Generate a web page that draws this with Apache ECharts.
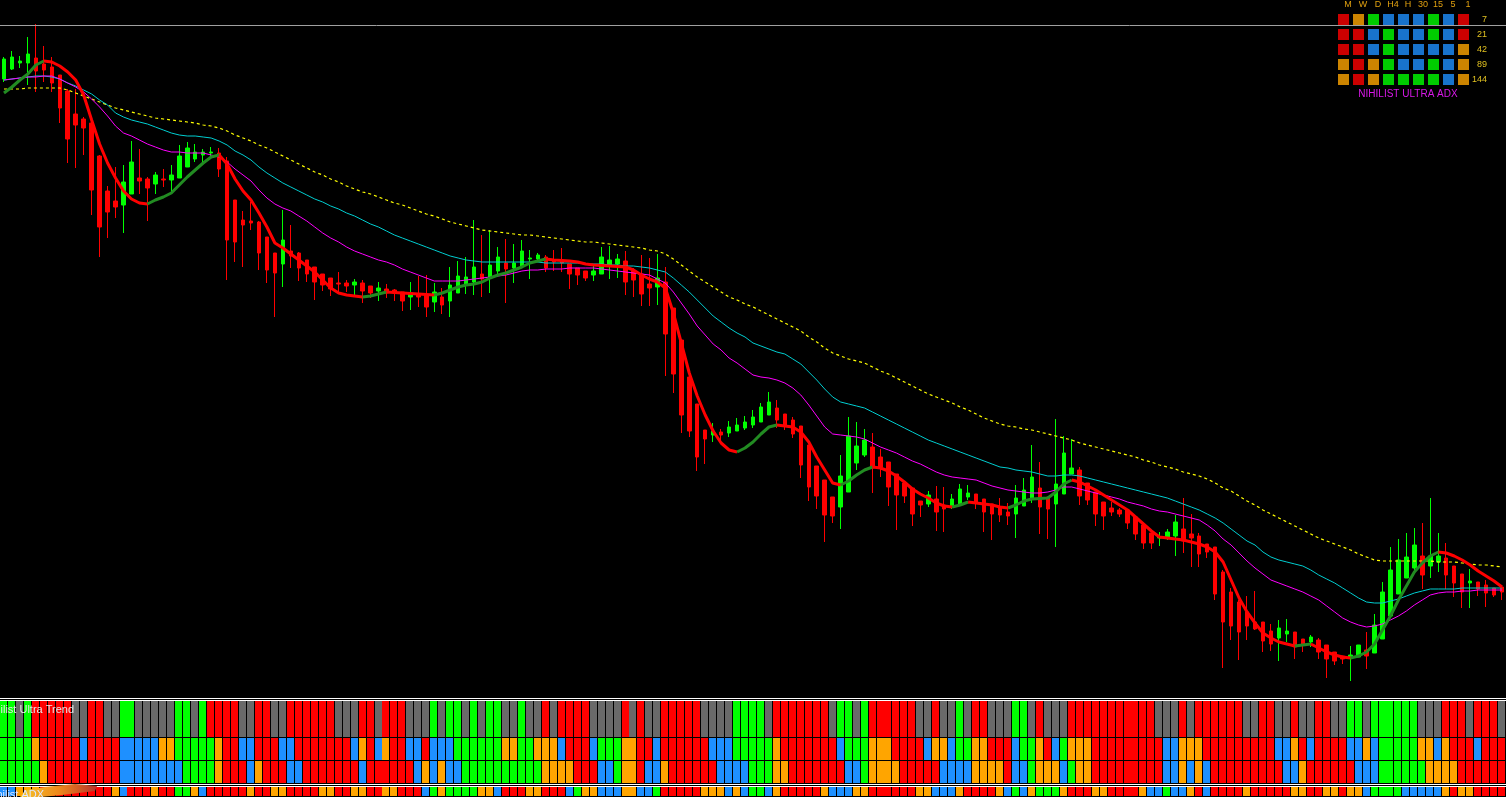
<!DOCTYPE html>
<html><head><meta charset="utf-8">
<script src="https://cdn.jsdelivr.net/npm/echarts@6/dist/echarts.min.js"></script>
<style>html,body{margin:0;padding:0;background:#000;overflow:hidden}#c{width:1506px;height:797px}</style>
</head><body><div id="c"></div><script>
// ---- price data (points) ----
const opens = [621,631,637,637,642,636,633,625,609,586,
581,577,544,509,499,495,506,522,521,516,
521,520,522,533,541,545,547,547,539,500,
480,479,478,463,447,436,449,447,440,433,
426,422,417,417,415,417,414,409,411,410,
408,403,405,405,398,403,399,407,415,418,
426,423,429,437,432,434,441,441,443,439,
440,436,432,429,425,426,434,436,439,429,
426,416,413,418,392,360,323,296,270,265,
268,267,269,272,275,278,285,292,286,280,
274,255,234,220,203,193,208,237,245,253,
243,238,226,217,212,199,196,201,195,193,
196,203,206,201,196,192,188,186,194,201,
212,203,196,206,226,230,217,208,198,192,
190,190,183,175,167,162,162,164,171,166,
164,156,153,128,108,98,88,78,78,69,
62,66,68,61,58,60,55,48,44,43,
43,50,47,61,84,106,122,132,144,134,
138,142,134,126,117,118,115,112,113];
const closes = [641,643,639,646,629,630,617,592,561,575,
572,510,473,488,493,518,538,519,512,525,
520,525,544,552,548,548,548,531,460,458,
475,477,447,430,427,460,444,432,426,418,
415,411,416,414,418,409,407,412,407,407,
399,407,403,393,408,395,415,424,423,433,
421,435,443,431,437,449,442,445,432,438,
437,426,425,422,429,443,440,441,418,420,
406,412,422,366,326,285,269,243,261,269,
265,273,275,278,283,293,298,280,274,266,
235,213,204,185,184,224,264,254,260,232,
233,213,205,204,186,195,205,188,191,201,
211,207,197,188,186,185,184,202,210,223,
193,191,216,247,232,204,200,186,184,188,
186,177,166,157,157,163,168,178,159,162,
146,148,106,78,74,68,74,71,59,56,
72,69,53,56,63,48,41,39,41,45,
55,44,75,108,130,140,143,155,125,144,
144,125,117,108,119,111,107,105,108];
const lows = [618,630,632,615,608,618,608,577,537,532,
545,485,443,462,482,467,506,506,479,506,
513,506,522,533,538,538,543,523,420,438,
433,470,430,417,383,413,432,419,418,400,
409,404,407,408,405,397,402,399,402,399,
389,390,393,383,388,386,383,407,406,405,
403,407,423,397,417,433,421,440,428,429,
428,411,415,419,419,426,421,422,405,403,
394,394,395,324,307,267,263,229,236,258,
260,263,269,270,272,278,285,272,270,262,
222,199,191,158,177,171,208,230,243,207,
223,194,170,197,174,183,193,169,168,191,
196,200,191,168,160,178,175,162,194,197,
166,161,153,206,226,195,195,174,170,184,
183,171,160,151,151,154,160,144,147,133,
133,142,100,32,60,40,60,70,48,49,
39,58,41,48,53,41,22,35,36,19,
43,31,47,61,84,106,122,130,111,122,
128,111,103,92,92,104,93,103,100];
const highs = [643,649,644,663,676,654,643,625,611,611,
583,582,545,514,533,535,559,551,523,528,
531,535,555,558,556,551,553,552,543,500,
489,498,479,463,447,490,475,448,440,433,
426,422,428,420,421,420,414,418,416,411,
408,418,424,425,417,412,433,439,443,480,
465,470,453,461,456,460,450,447,445,450,
452,436,432,429,435,453,454,446,449,432,
445,442,446,433,392,360,323,296,270,277,
271,279,282,284,290,297,308,300,286,283,
274,255,234,220,203,245,283,278,271,267,
251,238,226,217,212,199,209,214,213,206,
216,215,206,201,196,202,197,215,222,255,
238,203,281,264,261,233,217,208,198,198,
192,190,183,175,167,168,171,185,202,186,
167,156,153,130,112,100,104,109,78,76,
80,81,68,61,65,62,55,48,44,54,
55,68,86,118,153,161,167,172,177,202,
167,157,134,126,131,118,120,112,113];

// ---- moving averages ----
const maSlow = [611,611,611,612,612,612,612,612,610,607,
604,601,598,595,592,590,588,586,584,582,
581,580,579,578,577,575,574,572,569,565,
562,559,555,552,548,544,540,536,532,528,
525,521,518,514,511,508,506,503,500,497,
495,492,489,486,484,481,478,476,474,472,
470,469,468,467,466,465,465,464,463,462,
461,460,459,458,458,457,456,455,454,453,
452,450,449,446,441,435,429,423,418,413,
408,403,400,396,393,389,385,381,377,373,
369,363,358,352,347,344,341,339,337,333,
329,326,322,318,314,310,306,303,300,297,
293,290,286,282,279,276,274,273,271,270,
268,266,264,262,260,257,255,253,251,249,
247,245,243,240,238,235,233,231,228,226,
224,221,217,212,209,204,199,195,190,186,
182,178,174,170,166,162,159,156,153,150,
146,143,140,139,139,139,139,139,139,139,
138,138,138,137,136,135,135,134,133];
const maMid = [620,621,622,623,624,624,623,621,617,614,
610,606,600,595,587,583,580,578,576,573,
570,567,565,564,564,563,562,559,555,549,
545,540,533,527,522,517,513,509,505,501,
498,494,491,487,484,480,476,473,469,465,
462,459,456,453,450,447,444,442,440,439,
438,438,438,438,438,438,438,438,437,437,
437,437,437,436,436,436,435,435,434,434,
433,432,430,428,422,415,408,400,392,384,
378,372,367,363,357,354,351,348,346,341,
336,328,320,311,303,298,296,294,292,288,
284,280,276,272,268,264,260,257,254,251,
248,245,242,239,236,233,232,230,229,228,
226,224,224,225,225,224,222,220,218,216,
214,212,210,208,206,204,202,199,196,193,
190,186,182,177,171,165,159,155,148,143,
140,138,136,134,130,125,121,117,112,107,
102,98,97,97,99,101,104,107,109,111,
111,111,111,112,112,112,112,112,112];
const maShort = [620,621,622,623,623,624,624,621,617,613,
608,601,593,584,574,567,564,560,556,553,
550,548,548,547,547,547,545,543,538,531,
525,519,510,502,496,492,489,484,479,473,
467,462,458,453,449,446,443,440,438,435,
431,428,425,422,419,419,419,419,420,421,
422,423,424,425,427,429,430,430,431,431,
431,432,432,432,432,431,430,429,428,427,
426,425,421,417,408,397,386,374,365,356,
350,342,337,331,325,323,322,320,317,312,
305,295,284,273,266,265,264,263,261,257,
253,250,247,243,239,236,232,228,225,223,
222,221,220,217,214,212,210,209,208,207,
207,208,210,213,213,211,209,207,205,203,
201,198,196,194,191,189,188,186,184,182,
180,175,169,161,155,147,139,132,126,120,
117,114,111,108,104,100,94,88,82,78,
75,73,74,76,80,84,89,95,100,105,
107,108,108,109,109,110,110,110,110];
const maFast = [607,613,620,626,635,639,638,634,628,620,
605,580,556,537,522,509,501,497,496,500,
503,507,515,523,530,537,543,545,536,521,
509,500,487,473,457,452,446,440,434,428,
420,412,407,405,404,403,404,406,408,407.5,
407,406.5,406,405.5,405,407,410,413,415,416,
418,422,425,427,430,433,437,439,441,440,
439.5,439,438,436,435,434.5,434,433.5,433,430,
425,421,418,412,387,357,327,304,285,269,
257,250,248,252,258,266,273,275,274,273,
268,258,243,230,217,215,219,225,230,233,
232,229,224,218,211,206,202,197,194,193,
195,198,197,196,195,193,192,195,199,201,
201.5,202,208,216,220,218,214,210,205,200,
195,190,183,176,169,163,162,161,160,158,
156,153,148,138,120,102,88,77,67,62,
58,56,54,55,56,52,48,45,43,42,
44,48,56,70,84,100,114,128,137,144,
148,147,144,140,135,129,124,119,113];
const upperLevel = 675;

// ---- Nihilist Ultra Trend rows (R red, O orange, G green, B blue, X gray) ----
const trendRow1 = "GGXGRRRRRXXRRXXGGXXXXXGGXGRRRRXXRRXXRR" + "RRRRXXXRRXRRRXXXGXGGXGXGGXXGXXRXRRRRXX" + "XXRXRXXRRRRRXXXXGGGGXRRRRRRRXGGXGRRRR" + "RRXXRXXGXRRXXXGGXRXXXRRRRRRRRRRRXXXRXR" + "RRRRRXXRRXXRXXRRXXGGXGGGGGGXXXRRRXRRRX";
const trendRow2 = "GGGGORRRRRBRRRRBBBBBOOGGGGGORRBBRRRBBR" + "RRRRRRBORBORRBBRBBBGGGGGGOOGGOOOBRRRBG" + "GGOORRBRRRRRRBBBGGGGGORRRRRRRBGGGOOOR" + "RRRBOOBGGOORRRBGGORBGOOORRRRRRRRRBBOOO" + "RRRRRRRRRBBORBRRRRBBOBGGGGGOOBORRRBRRR";
const trendRow3 = "GGGGGORRRRRRRRRBBBBBBBBGGGGORRRBORRRBB" + "RRRRRRRBRRRRRRBOBOBBGGGGGGGGGGOOOORRRB" + "BGOORBBORRRRRRBBBBGGGOORRRRRRRBBGOOOO" + "RRRRRBBBBOOOORBBGOOOBGOORRRRRRRRRBBOBO" + "BRRRRRRRRRBBORRRRRRBBBGGGGGGOOOORRRRRR";
const trendRow4 = "BBOOORRRRRRRRROBRRRORRGGOBRRRRRORROORR" + "RROORROORROORRRBGOGGGGOOBRRROORRRBGOOB" + "BBOOBBGRRRRROOOBOBGGBORRRRROBBBOORRRR" + "RROOBBBORRRROBGBOGGGORRROORRRROBBGBBOR" + "BRRRRORRRRROORROOROOBGGGGBBBBBOROORRRR";

// ---- Nihilist Ultra ADX panel ----
const adxTimeframes = ['M','W','D','H4','H','30','15','5','1'];
const adxPeriods = ['7','21','42','89','144'];
const adxRows = ['ROGBBBGBR','RRBGBBGBR','RRBGBBBBO','OROGBBGBO','OROGGGGBO'];

// ---------------------------------------------------------------
const N = opens.length;
const barIndex = opens.map((_, i) => String(i));
const palette = {R:'#ff0000', O:'#ffa500', G:'#00ff00', B:'#1e90ff', X:'#696969'};
const codeList = ['R','O','G','B','X'];

const candleData = opens.map((o, i) => [o, closes[i], lows[i], highs[i]]);

function fastRuns(vals){
  const runs = []; let cur = null;
  for (let i = 0; i < vals.length - 1; i++) {
    let up = vals[i+1] > vals[i] ? true : (vals[i+1] < vals[i] ? false : (cur ? cur.up : true));
    if (!cur || cur.up !== up) { cur = {up, start:i, end:i+1}; runs.push(cur); } else cur.end = i+1;
  }
  return runs;
}

const series = [];
series.push({
  type:'candlestick', xAxisIndex:0, yAxisIndex:0, data:candleData, barWidth:4,
  itemStyle:{color:'#00ff00', color0:'#ff0000', borderColor:'#00ff00', borderColor0:'#ff0000', borderWidth:1},
  markLine:{silent:true, symbol:['none','none'], label:{show:false},
    lineStyle:{color:'#a0a0a0', width:1, type:'solid'}, data:[{yAxis:upperLevel}]}
});
series.push({type:'line', xAxisIndex:0, yAxisIndex:0, data:maSlow, showSymbol:false, symbol:'none',
  lineStyle:{color:'#ffff00', width:1.2, type:[3,3]}});
series.push({type:'line', xAxisIndex:0, yAxisIndex:0, data:maMid, showSymbol:false, symbol:'none',
  lineStyle:{color:'#00ced1', width:1}});
series.push({type:'line', xAxisIndex:0, yAxisIndex:0, data:maShort, showSymbol:false, symbol:'none',
  lineStyle:{color:'#ff00ff', width:1}});
fastRuns(maFast).forEach(r => {
  series.push({type:'line', xAxisIndex:0, yAxisIndex:0, showSymbol:false, symbol:'none', connectNulls:false,
    data: maFast.map((v, i) => (i >= r.start && i <= r.end) ? v : null),
    lineStyle:{color: r.up ? '#228b22' : '#ff0000', width:3}});
});

const rows = [trendRow1, trendRow2, trendRow3, trendRow4];
rows.forEach((row, ri) => {
  const data = [];
  for (let i = 0; i < N; i++) { const ch = row[i] || 'X'; data.push([i, 0, codeList.indexOf(ch)]); }
  series.push({type:'custom', xAxisIndex:ri+1, yAxisIndex:ri+1, data, encode:{x:0, y:1}, silent:true,
    renderItem:(params, api) => {
      const c = api.coord([api.value(0), api.value(1)]);
      const sz = api.size([1, 1]);
      const x = Math.round(c[0] - sz[0] / 2), y = Math.round(c[1] - sz[1] / 2);
      return {type:'rect', shape:{x, y, width:Math.round(sz[0]) - 1, height:Math.round(sz[1]) - 1},
        style:{fill: palette[codeList[api.value(2)]]}};
    }});
});

const adxData = [];
adxRows.forEach((row, r) => { for (let c = 0; c < row.length; c++) {
  adxData.push({value:[c, r], itemStyle:{color: palette[row[c]]}});
}});
series.push({type:'scatter', xAxisIndex:5, yAxisIndex:5, symbol:'rect', symbolSize:[11,11], data:adxData, z:5, silent:true});

const heatGrids = [[701,37],[738,23],[761,23],[787,20]];
const grids = [{left:-5.5, top:0, width:1512, height:697}];
heatGrids.forEach(g => grids.push({left:-5.5, top:g[0], width:1512, height:g[1]}));
grids.push({left:1336, top:12, width:135, height:75, z:5});

const xAxes = [], yAxes = [];
xAxes.push({gridIndex:0, type:'category', data:barIndex, boundaryGap:true, show:false});
yAxes.push({gridIndex:0, type:'value', min:3, max:700, show:false});
for (let g = 1; g <= 4; g++) {
  xAxes.push({gridIndex:g, type:'category', data:barIndex, show:false});
  yAxes.push({gridIndex:g, type:'category', data:['t'], show:false});
}
xAxes.push({gridIndex:5, type:'category', data:adxTimeframes, position:'top',
  axisLine:{show:false}, axisTick:{show:false}, splitLine:{show:false},
  axisLabel:{color:'#e0a010', fontSize:9, fontFamily:'Liberation Sans', margin:3, padding:[0,0,0,9], interval:0}});
yAxes.push({gridIndex:5, type:'category', data:adxPeriods, inverse:true, position:'right',
  axisLine:{show:false}, axisTick:{show:false}, splitLine:{show:false},
  axisLabel:{color:'#e0c020', fontSize:9, fontFamily:'Liberation Sans', margin:16, align:'right', padding:[0,0,6,0], interval:0}});

const chart = echarts.init(document.getElementById('c'), null, {renderer:'canvas'});
chart.setOption({
  backgroundColor:'#000000',
  animation:false,
  grid:grids, xAxis:xAxes, yAxis:yAxes,
  graphic:[
    {type:'rect', shape:{x:0, y:698, width:1506, height:1}, style:{fill:'#ffffff'}, silent:true},
    {type:'rect', shape:{x:0, y:700, width:1506, height:1}, style:{fill:'#ffffff'}, silent:true},
    {type:'rect', shape:{x:0, y:784, width:1506, height:1}, style:{fill:'#ffffff'}, silent:true},
    {type:'rect', shape:{x:0, y:786, width:1506, height:1}, style:{fill:'#ffffff'}, silent:true},
    {type:'text', x:-16, y:704, z:100, silent:true, style:{text:'Nihilist Ultra Trend', fill:'#e8e8e8', font:'11px "Liberation Sans"'}},
    {type:'polygon', z:100, silent:true, shape:{points:[[20,797],[26,790],[45,787],[75,784],[97,786],[95,791],[62,795],[40,797]]},
      style:{fill:new echarts.graphic.LinearGradient(0,0,1,0,[{offset:0,color:'#f7c52a'},{offset:0.5,color:'#ee8a1c'},{offset:1,color:'#b8322c'}])}},
    {type:'text', x:-14, y:789, z:100, silent:true, style:{text:'Nihilist ADX', fill:'#dfe8ff', font:'11px "Liberation Sans"'}},
    {type:'text', x:1408, y:94.5, z:100, silent:true, style:{text:'NIHILIST ULTRA ADX', fill:'#d818e8', font:'10px "Liberation Sans"', textAlign:'center', textVerticalAlign:'middle'}}
  ],
  series
});
</script></body></html>
